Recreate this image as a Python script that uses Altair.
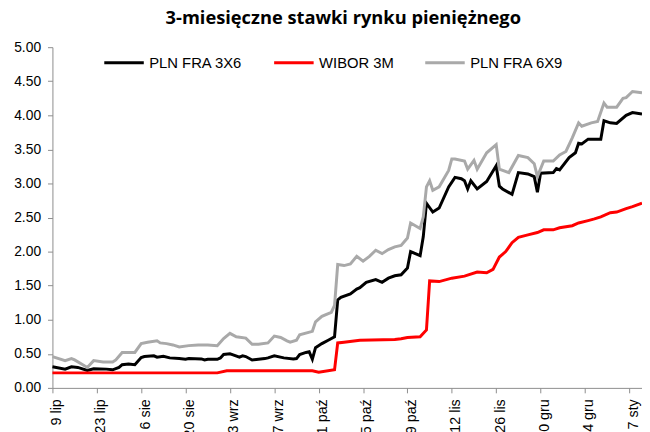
import altair as alt
import pandas as pd

series_names = ["PLN FRA 3X6", "WIBOR 3M", "PLN FRA 6X9"]
series_colors = ["#000000", "#ff0000", "#a9a9a9"]

fra3x6_dates = [
    "2021-07-09", "2021-07-13", "2021-07-15", "2021-07-17", "2021-07-20", "2021-07-22",
    "2021-07-26", "2021-07-28", "2021-07-30", "2021-07-31", "2021-08-02", "2021-08-04",
    "2021-08-06", "2021-08-07", "2021-08-10", "2021-08-11", "2021-08-13", "2021-08-15",
    "2021-08-18", "2021-08-20", "2021-08-21", "2021-08-25", "2021-08-26", "2021-08-27",
    "2021-08-30", "2021-08-31", "2021-09-01", "2021-09-03", "2021-09-04", "2021-09-06",
    "2021-09-07", "2021-09-08", "2021-09-10", "2021-09-12", "2021-09-14", "2021-09-15",
    "2021-09-17", "2021-09-20", "2021-09-23", "2021-09-24", "2021-09-25", "2021-09-27",
    "2021-09-28", "2021-09-29", "2021-09-30", "2021-10-02", "2021-10-04", "2021-10-06",
    "2021-10-07", "2021-10-08", "2021-10-11", "2021-10-13", "2021-10-14", "2021-10-16",
    "2021-10-19", "2021-10-21", "2021-10-23", "2021-10-25", "2021-10-27", "2021-10-29",
    "2021-10-30", "2021-11-02", "2021-11-03", "2021-11-04", "2021-11-06", "2021-11-08",
    "2021-11-11", "2021-11-13", "2021-11-15", "2021-11-16", "2021-11-17", "2021-11-18",
    "2021-11-20", "2021-11-23", "2021-11-26", "2021-11-27", "2021-11-28", "2021-12-01",
    "2021-12-03", "2021-12-06", "2021-12-08", "2021-12-09", "2021-12-10", "2021-12-14",
    "2021-12-15", "2021-12-16", "2021-12-19", "2021-12-21", "2021-12-22", "2021-12-23",
    "2021-12-25", "2021-12-29", "2021-12-30", "2022-01-01", "2022-01-03", "2022-01-06",
    "2022-01-08", "2022-01-11",
]
fra3x6_values = [
    0.31, 0.275, 0.31, 0.30, 0.256, 0.28,
    0.275, 0.265, 0.30, 0.34, 0.35, 0.34,
    0.445, 0.46, 0.47, 0.45, 0.465, 0.44,
    0.43, 0.42, 0.43, 0.425, 0.41, 0.42,
    0.42, 0.44, 0.49, 0.50, 0.485, 0.45,
    0.47, 0.46, 0.41, 0.42, 0.43, 0.44,
    0.47, 0.44, 0.425, 0.43, 0.49, 0.52,
    0.53, 0.42, 0.59, 0.65, 0.70, 0.75,
    1.29, 1.33, 1.38, 1.45, 1.47, 1.55,
    1.59, 1.55, 1.61, 1.645, 1.66, 1.76,
    2.00, 1.94, 2.22, 2.71, 2.58, 2.64,
    2.95, 3.09, 3.07, 3.04, 2.92, 3.04,
    2.92, 3.03, 3.26, 2.96, 2.92, 2.84,
    3.16, 3.14, 3.10, 2.87, 3.15, 3.16,
    3.22, 3.20, 3.38, 3.45, 3.59, 3.58,
    3.65, 3.65, 3.92, 3.89, 3.88, 4.00,
    4.04, 4.02,
]

wibor_dates = [
    "2021-07-09", "2021-08-30", "2021-09-02", "2021-09-29", "2021-10-01", "2021-10-06",
    "2021-10-07", "2021-10-09", "2021-10-14", "2021-10-25", "2021-10-27", "2021-10-29",
    "2021-11-02", "2021-11-04", "2021-11-05", "2021-11-08", "2021-11-12", "2021-11-16",
    "2021-11-20", "2021-11-23", "2021-11-25", "2021-11-27", "2021-11-29", "2021-12-01",
    "2021-12-03", "2021-12-06", "2021-12-09", "2021-12-11", "2021-12-14", "2021-12-16",
    "2021-12-20", "2021-12-22", "2021-12-25", "2021-12-27", "2021-12-29", "2022-01-01",
    "2022-01-03", "2022-01-06", "2022-01-08", "2022-01-11",
]
wibor_values = [
    0.22, 0.22, 0.25, 0.25, 0.23, 0.265,
    0.66, 0.67, 0.70, 0.71, 0.72, 0.74,
    0.75, 0.85, 1.57, 1.56, 1.61, 1.64,
    1.70, 1.69, 1.74, 1.92, 2.00, 2.13,
    2.21, 2.245, 2.28, 2.32, 2.32, 2.35,
    2.38, 2.42, 2.455, 2.48, 2.51, 2.57,
    2.58, 2.63, 2.66, 2.71,
]

fra6x9_dates = [
    "2021-07-09", "2021-07-13", "2021-07-15", "2021-07-16", "2021-07-20", "2021-07-22",
    "2021-07-25", "2021-07-28", "2021-07-29", "2021-07-31", "2021-08-04", "2021-08-06",
    "2021-08-08", "2021-08-11", "2021-08-12", "2021-08-14", "2021-08-16", "2021-08-18",
    "2021-08-21", "2021-08-24", "2021-08-27", "2021-08-30", "2021-09-01", "2021-09-03",
    "2021-09-05", "2021-09-08", "2021-09-10", "2021-09-12", "2021-09-15", "2021-09-17",
    "2021-09-19", "2021-09-21", "2021-09-22", "2021-09-24", "2021-09-25", "2021-09-29",
    "2021-09-30", "2021-10-02", "2021-10-05", "2021-10-06", "2021-10-07", "2021-10-09",
    "2021-10-11", "2021-10-13", "2021-10-15", "2021-10-17", "2021-10-19", "2021-10-21",
    "2021-10-23", "2021-10-25", "2021-10-27", "2021-10-29", "2021-10-30", "2021-11-02",
    "2021-11-03", "2021-11-04", "2021-11-05", "2021-11-06", "2021-11-08", "2021-11-11",
    "2021-11-12", "2021-11-13", "2021-11-16", "2021-11-17", "2021-11-19", "2021-11-20",
    "2021-11-23", "2021-11-26", "2021-11-27", "2021-11-30", "2021-12-03", "2021-12-06",
    "2021-12-08", "2021-12-09", "2021-12-11", "2021-12-14", "2021-12-16", "2021-12-18",
    "2021-12-20", "2021-12-22", "2021-12-23", "2021-12-26", "2021-12-28", "2021-12-30",
    "2021-12-31", "2022-01-03", "2022-01-05", "2022-01-06", "2022-01-08", "2022-01-11",
]
fra6x9_values = [
    0.46, 0.40, 0.43, 0.41, 0.30, 0.40,
    0.38, 0.38, 0.41, 0.52, 0.52, 0.65,
    0.67, 0.69, 0.66, 0.65, 0.63, 0.60,
    0.62, 0.63, 0.63, 0.62, 0.725, 0.80,
    0.75, 0.73, 0.64, 0.64, 0.66, 0.76,
    0.74, 0.69, 0.67, 0.70, 0.78, 0.83,
    0.97, 1.05, 1.11, 1.21, 1.81, 1.795,
    1.82, 1.93, 1.86, 1.93, 2.02, 1.97,
    2.03, 2.07, 2.09, 2.20, 2.42, 2.34,
    2.51, 2.95, 3.04, 2.90, 2.95, 3.19,
    3.36, 3.36, 3.33, 3.21, 3.34, 3.21,
    3.45, 3.57, 3.21, 3.16, 3.41, 3.38,
    3.29, 3.10, 3.33, 3.33, 3.42, 3.47,
    3.67, 3.89, 3.84, 3.89, 3.91, 4.18,
    4.12, 4.12, 4.25, 4.26, 4.35, 4.33,
]

tick_dates = [
    "2021-07-09", "2021-07-23", "2021-08-06", "2021-08-20", "2021-09-03", "2021-09-17",
    "2021-10-01", "2021-10-15", "2021-10-29", "2021-11-12", "2021-11-26", "2021-12-10",
    "2021-12-24", "2022-01-07",
]
domain_dates = ["2021-07-09", "2022-01-11"]
y_ticks = [0, 0.5, 1.0, 1.5, 2.0, 2.5, 3.0, 3.5, 4.0, 4.5, 5.0]
months_pl = ["sty", "lut", "mar", "kwi", "maj", "cze", "lip", "sie", "wrz", "paź", "lis", "gru"]
title_text = "3-miesięczne stawki rynku pieniężnego"

rows = []
for name, ds, vs in [
    ("PLN FRA 3X6", fra3x6_dates, fra3x6_values),
    ("WIBOR 3M", wibor_dates, wibor_values),
    ("PLN FRA 6X9", fra6x9_dates, fra6x9_values),
]:
    for d, v in zip(ds, vs):
        rows.append({"date": d, "value": v, "series": name})
df = pd.DataFrame(rows)


def dt(s):
    y, m, d = (int(p) for p in s.split("-"))
    return alt.DateTime(year=y, month=m, date=d, utc=True)


month_arr = "[" + ",".join("'" + m + "'" for m in months_pl) + "]"
label_expr = "utcdate(datum.value) + ' ' + " + month_arr + "[utcmonth(datum.value)]"

axis_common = dict(
    domainColor="#8c8c8c",
    tickColor="#8c8c8c",
    tickSize=5,
    labelColor="#000000",
    labelFont="Liberation Sans",
    grid=False,
    title=None,
)

chart = (
    alt.Chart(df)
    .mark_line(strokeWidth=3)
    .encode(
        x=alt.X(
            "date:T",
            scale=alt.Scale(type="utc", domain=[dt(s) for s in domain_dates], nice=False),
            axis=alt.Axis(
                values=[dt(s) for s in tick_dates],
                labelExpr=label_expr,
                labelAngle=-90,
                labelFontSize=14.5,
                labelPadding=6,
                labelOffset=4,
                labelOverlap=False,
                labelFlush=False,
                **axis_common,
            ),
        ),
        y=alt.Y(
            "value:Q",
            scale=alt.Scale(domain=[0, 5], nice=False),
            axis=alt.Axis(values=y_ticks, format=".2f", labelFontSize=14, labelPadding=7, **axis_common),
        ),
        color=alt.Color(
            "series:N",
            scale=alt.Scale(domain=series_names, range=series_colors),
            legend=alt.Legend(
                orient="none",
                legendX=51,
                legendY=-6,
                direction="horizontal",
                title=None,
                symbolType="stroke",
                symbolStrokeWidth=3,
                symbolSize=1600,
                labelFont="Liberation Sans",
                labelFontSize=15,
                labelColor="#000000",
                labelOffset=4,
                columnPadding=25,
            ),
        ),
    )
    .properties(
        width=597,
        height=345,
        autosize=alt.AutoSizeParams(type="none"),
        padding={"left": 45, "top": 37, "right": 0, "bottom": 42},
        title=alt.TitleParams(
            title_text,
            font="Open Sans",
            fontSize=18.5,
            fontWeight="bold",
            color="#000000",
            anchor="middle",
            dx=-4,
            dy=-9,
        ),
    )
    .configure_view(stroke=None)
)

chart.save("out.html", embed_options={"renderer": "svg", "actions": False})
